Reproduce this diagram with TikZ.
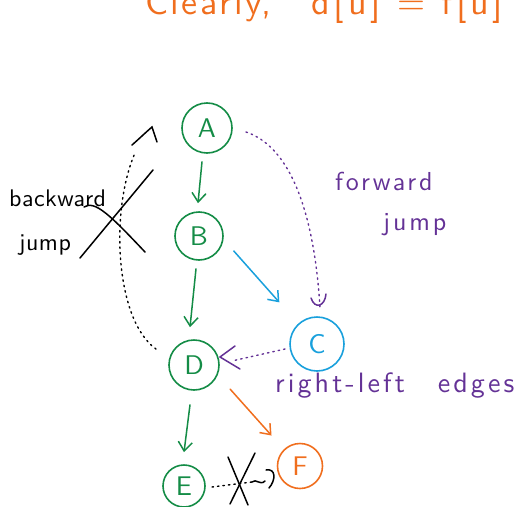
\documentclass[tikz,border=0pt]{standalone}
\usepackage{fontspec}
\usetikzlibrary{arrows.meta,calc}
\newfontfamily\handwide{lmsans10-regular.otf}[LetterSpace=11]
\newfontfamily\handmid{lmsans10-regular.otf}[LetterSpace=7]
\newfontfamily\handnar{lmsans10-regular.otf}[LetterSpace=2]
\definecolor{hgreen}{RGB}{20,140,70}
\definecolor{hblue}{RGB}{25,160,220}
\definecolor{hpurple}{RGB}{100,50,150}
\definecolor{horange}{RGB}{240,110,30}
\tikzset{
  vert/.style={circle, draw, line width=1.6pt, minimum size=#1, inner sep=0pt, font=\handnar\fontsize{27}{27}\selectfont},
  hand/.style={line width=1.5pt, line cap=round},
  tip/.style={-{Straight Barb[length=9pt,width=14pt,line width=1.5pt]}},
  dotline/.style={line width=1.4pt, line cap=round, dash pattern=on 1.5pt off 4pt},
  lbl/.style={inner sep=0pt, anchor=base west}
}
\begin{document}
\begin{tikzpicture}[x=1pt,y=-1pt]
\useasboundingbox (0,0) rectangle (516,506);
\clip (0,0) rectangle (516,506);
% top text
\node[lbl, text=horange, font=\handmid\fontsize{36}{36}\selectfont] (title) at (145,14) {Clearly,\hspace{40pt}{\handwide d[u] = f[u]}};
% vertices
\node[vert=50pt, draw=hgreen, text=hgreen] (A) at (207,128) {A};
\node[vert=48pt, draw=hgreen, text=hgreen] (B) at (199,236) {B};
\node[vert=50pt, draw=hgreen, text=hgreen] (D) at (194,365) {D};
\node[vert=54pt, draw=hblue, text=hblue] (C) at (317,344) {C};
\node[vert=42pt, draw=hgreen, text=hgreen] (E) at (184,486) {E};
\node[vert=45pt, draw=horange, text=horange] (F) at (300,466) {F};
% tree edges
\draw[hand, tip, hgreen] ($(A.south)+(-5,8)$) -- ($(B.north)+(-1,-8)$);
\draw[hand, tip, hgreen] ($(B.south)+(-3,8)$) -- ($(D.north)+(-4,-12)$);
\draw[hand, tip, hgreen] ($(D.south)+(-4,14)$) -- ($(E.north)+(0,-12)$);
\draw[hand, tip, hblue] ($(B.east)+(10,15)$) -- ($(C.north west)+(-18,-22)$);
\draw[hand, tip, horange] ($(D.south east)+(18,6)$) -- ($(F.north west)+(-12,-14)$);
% forward jump
\coordinate (fjs) at (246,132);
\coordinate (fje) at (320,308);
\draw[dotline, hpurple] (fjs) .. controls (300,150) and (316,240) .. (fje);
\draw[hand, hpurple] (311,298) .. controls (315,310) and (325,306) .. (326,294);
% right-left edge
\coordinate (rls) at (285,349);
\draw[dotline, hpurple, shorten >=2pt] (rls) -- ($(D.east)+(12,-4)$);
\draw[hand, hpurple] (235,346) -- (220,357) -- (240,369);
% backward jump
\coordinate (bjs) at (156,349);
\coordinate (bje) at (135,153);
\draw[dotline] (bjs) .. controls (115,320) and (110,210) .. (bje);
\draw[hand] (132,145) .. controls (140,138) and (145,133) .. (152,127) -- (157,142);
\draw[hand] (80,258) -- (153,170);
\draw[hand] (84,207) .. controls (95,200) and (110,215) .. (145,252);
% E to F crossed
\coordinate (efs) at (212,487);
\coordinate (efm) at (252,482);
\draw[dotline] (efs) -- (efm);
\draw[hand] (efm) .. controls (256,478) and (260,486) .. (265,481);
\draw[hand] (266,470) .. controls (276,468) and (276,480) .. (269,488);
\draw[hand] (228,457) -- (248,505);
\draw[hand] (255,453) -- (230,504);
% labels
\node[lbl, font=\handnar\fontsize{24}{24}\selectfont] (bw) at (9,206) {backward};
\node[lbl, font=\handnar\fontsize{24}{24}\selectfont] (jp1) at (19,250) {jump};
\node[lbl, text=hpurple, font=\handwide\fontsize{26}{26}\selectfont] (fw) at (335,190) {forward};
\node[lbl, text=hpurple, font=\handwide\fontsize{26}{26}\selectfont] (jp2) at (383,230) {jump};
\node[lbl, text=hpurple, font=\handwide\fontsize{28}{28}\selectfont] (rl) at (275,392) {right-left\hspace{33pt}edges};
\end{tikzpicture}
\end{document}
